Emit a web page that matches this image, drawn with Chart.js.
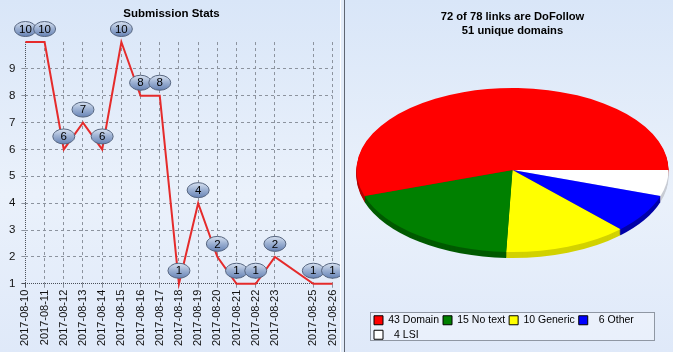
<!DOCTYPE html>
<html>
<head>
<meta charset="utf-8">
<script src="https://cdn.jsdelivr.net/npm/chart.js@4"></script>
<style>
  body { margin: 0; width: 673px; height: 352px; background: #e3ecf9; position: relative; overflow: hidden; }
  .panel { position: absolute; top: 0; height: 352px; background: linear-gradient(#d9e6f8, #eaf1fb 55%, #dfe9f9); }
  #left { left: 0; width: 340px; border-right: 1px solid #ffffff; }
  #right { left: 344px; width: 328px; border-left: 1px solid #5f6672; }
</style>
</head>
<body>
<div class="panel" id="left"><canvas id="stats" width="340" height="352"></canvas></div>
<div class="panel" id="right"><canvas id="links" width="328" height="352"></canvas></div>
<script>
// left chart: submissions per day
const dates = ['2017-08-10', '2017-08-11', '2017-08-12', '2017-08-13', '2017-08-14', '2017-08-15',
    '2017-08-16', '2017-08-17', '2017-08-18', '2017-08-19', '2017-08-20', '2017-08-21',
    '2017-08-22', '2017-08-23', '2017-08-25', '2017-08-26'];
const submissions = [10, 10, 6, 7, 6, 10, 8, 8, 1, 4, 2, 1, 1, 2, 1, 1];
const yTicks = [1, 2, 3, 4, 5, 6, 7, 8, 9];

// right chart: anchor text types
const pieTitle = ['72 of 78 links are DoFollow', '51 unique domains'];
const pieNames = ['Domain', 'No text', 'Generic', 'Other', 'LSI'];
const pieCounts = [43, 15, 10, 6, 4];
const pieColors = ['#ff0000', '#008000', '#ffff00', '#0000ff', '#ffffff'];
const pieSideColors = ['#b80000', '#005a00', '#d2d200', '#0000a8', '#c8ccd4'];

const FONT = '"Liberation Sans", Arial, sans-serif';
const DAY = 86400000;
const dayOf = s => Date.parse(s) / DAY;
const fmtDay = v => new Date(v * DAY).toISOString().slice(0, 10);

// value bubbles over each point
const bubbleLabels = {
    id: 'bubbleLabels',
    afterDatasetsDraw(chart) {
        const ctx = chart.ctx;
        const pts = chart.getDatasetMeta(0).data;
        ctx.save();
        pts.forEach((pt, i) => {
            const x = pt.x, y = pt.y - 13;
            const g = ctx.createLinearGradient(0, y - 7.5, 0, y + 7.5);
            g.addColorStop(0, '#d8e2f1');
            g.addColorStop(0.45, '#9fb3d4');
            g.addColorStop(1, '#6783b5');
            ctx.beginPath();
            ctx.ellipse(x, y, 11, 7.5, 0, 0, Math.PI * 2);
            ctx.fillStyle = g;
            ctx.fill();
            ctx.lineWidth = 1;
            ctx.strokeStyle = '#56657f';
            ctx.stroke();
            ctx.fillStyle = '#000';
            ctx.font = '11.5px ' + FONT;
            ctx.textAlign = 'center';
            ctx.textBaseline = 'middle';
            ctx.fillText(String(submissions[i]), x, y + 0.5);
        });
        ctx.restore();
    }
};

const gridColor = c => c.index === 0 ? '#4a4f58' : '#8c939e';
const gridDash = c => c.index === 0 ? [1, 1] : [3, 3];

new Chart(document.getElementById('stats'), {
    type: 'line',
    data: {
        datasets: [{
            data: dates.map((d, i) => ({ x: dayOf(d), y: submissions[i] })),
            borderColor: '#e52b2b',
            borderWidth: 2,
            pointRadius: 0,
            tension: 0,
            clip: false
        }]
    },
    options: {
        responsive: false,
        animation: false,
        layout: { padding: { left: 3, right: 0, bottom: 4 } },
        plugins: {
            legend: { display: false },
            tooltip: { enabled: false },
            title: {
                display: true,
                text: 'Submission Stats',
                color: '#000',
                font: { family: FONT, size: 11.5, weight: 'bold', lineHeight: 1.22 },
                padding: { top: 7, bottom: 21 }
            }
        },
        scales: {
            x: {
                type: 'linear',
                min: dayOf(dates[0]),
                max: dayOf(dates[dates.length - 1]),
                afterBuildTicks: s => { s.ticks = dates.map(d => ({ value: dayOf(d) })); },
                ticks: {
                    callback: v => fmtDay(v),
                    minRotation: 90, maxRotation: 90, autoSkip: false,
                    color: '#111', padding: 2,
                    font: { family: FONT, size: 11, lineHeight: 0.5 }
                },
                grid: { color: gridColor, tickLength: 4 },
                border: { display: false, dash: gridDash }
            },
            y: {
                min: 1,
                max: 10,
                afterBuildTicks: s => { s.ticks = yTicks.map(v => ({ value: v })); },
                ticks: { color: '#111', padding: 6, font: { family: FONT, size: 11.5 } },
                grid: { color: gridColor, tickLength: 4 },
                border: { display: false, dash: gridDash }
            }
        }
    },
    plugins: [bubbleLabels]
});

// flattened 3d pie: squash the arcs and draw a darker rim beneath
const pieDepth = {
    id: 'pieDepth',
    beforeDatasetsDraw(chart, args, opts) {
        const ctx = chart.ctx;
        const arcs = chart.getDatasetMeta(0).data;
        const cx = arcs[0].x, cy = arcs[0].y;
        const side = pieSideColors.slice().reverse();
        ctx.save();
        ctx.translate(cx, cy);
        ctx.scale(1, opts.squash);
        ctx.translate(-cx, -cy);
        for (let d = opts.depth; d > 0; d--) {
            const off = d / opts.squash;
            arcs.forEach((a, i) => {
                ctx.beginPath();
                ctx.moveTo(a.x, a.y + off);
                ctx.arc(a.x, a.y + off, a.outerRadius, a.startAngle, a.endAngle);
                ctx.closePath();
                ctx.fillStyle = side[i];
                ctx.fill();
            });
        }
    },
    afterDatasetsDraw(chart) {
        chart.ctx.restore();
    }
};

// framed legend box
const legendFrame = {
    id: 'legendFrame',
    beforeDraw(chart) {
        const lg = chart.legend;
        const ctx = chart.ctx;
        const h = lg.height - 10;
        ctx.save();
        ctx.fillStyle = 'rgba(255,255,255,0.3)';
        ctx.fillRect(lg.left, lg.top + 1, lg.width, h);
        ctx.strokeStyle = '#8f97a3';
        ctx.lineWidth = 1;
        ctx.strokeRect(lg.left + 0.5, lg.top + 1.5, lg.width - 1, h - 1);
        ctx.restore();
    }
};

const pieLabels = pieNames.map((n, i) => (pieCounts[i] < 10 ? '  ' : '') + pieCounts[i] + ' ' + n);

new Chart(document.getElementById('links'), {
    type: 'pie',
    data: {
        labels: pieLabels.slice().reverse(),
        datasets: [{
            data: pieCounts.slice().reverse(),
            backgroundColor: pieColors.slice().reverse(),
            borderWidth: 0,
            radius: 156,
            clip: false
        }]
    },
    options: {
        responsive: false,
        animation: false,
        rotation: 90,
        layout: { padding: { left: 25, right: 18, bottom: 2 } },
        plugins: {
            tooltip: { enabled: false },
            title: {
                display: true,
                text: pieTitle,
                color: '#000',
                font: { family: FONT, size: 11.2, weight: 'bold', lineHeight: 1.25 },
                padding: { top: 10, bottom: -9 }
            },
            legend: {
                position: 'bottom',
                align: 'start',
                labels: {
                    color: '#000',
                    boxWidth: 9,
                    boxHeight: 9,
                    padding: 4,
                    font: { family: FONT, size: 10.5 },
                    generateLabels(chart) {
                        const items = Chart.overrides.pie.plugins.legend.labels.generateLabels(chart);
                        return items.map(it => ({ ...it, strokeStyle: '#000', lineWidth: 1 })).reverse();
                    }
                }
            },
            pieDepth: { squash: 0.526, depth: 6 }
        }
    },
    plugins: [pieDepth, legendFrame]
});
</script>
</body>
</html>
